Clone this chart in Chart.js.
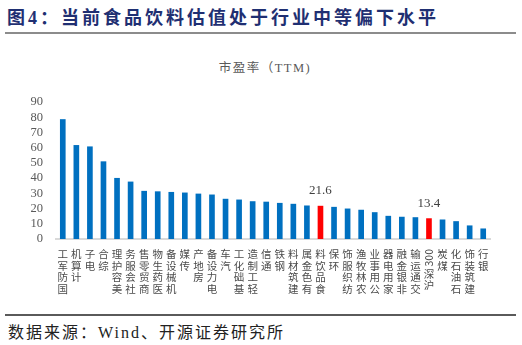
<!DOCTYPE html>
<html>
<head>
<meta charset="utf-8">
<script src="https://cdn.jsdelivr.net/npm/chart.js@4"></script>
<style>
  body { margin: 0; width: 522px; height: 345px; background: #fff; position: relative; overflow: hidden; }
  #head { position: absolute; left: 7px; top: 3px; font: bold 18px "Liberation Serif", "Noto Sans CJK SC"; letter-spacing: 3px; color: #1f2f72; white-space: nowrap; }
  #headLine { position: absolute; left: 5px; top: 32px; width: 511px; height: 2px; background: #8c8c8c; }
  #chartTitle { position: absolute; left: 0; width: 530px; top: 57px; text-align: center; font: 12.5px "Liberation Serif", "Noto Sans CJK SC"; letter-spacing: 1.5px; color: #595959; }
  #box { position: absolute; left: 0; top: 40px; width: 522px; height: 270px; }
  #footLine { position: absolute; left: 5px; top: 314px; width: 511px; height: 2px; background: #5a5a5a; }
  #source { position: absolute; left: 8px; top: 319px; font: 16px "Liberation Serif", "Noto Sans CJK SC"; letter-spacing: 2px; color: #222; white-space: nowrap; }
</style>
</head>
<body>
<div id="head">图4：当前食品饮料估值处于行业中等偏下水平</div>
<div id="headLine"></div>
<div id="chartTitle">市盈率（TTM)</div>
<div id="box"><canvas id="peChart"></canvas></div>
<div id="footLine"></div>
<div id="source">数据来源：Wind、开源证券研究所</div>

<script>

// =========================
// DATA
// =========================

const industries = [
  '国防军工', '计算机', '电子', '综合', '美容护理', '社会服务', '商贸零售', '医药生物',
  '机械设备', '传媒', '房地产', '电力设备', '汽车', '基础化工', '轻工制造', '通信',
  '钢铁', '建筑材料', '有色金属', '食品饮料', '环保', '纺织服饰', '农林牧渔', '公用事业',
  '家用电器', '非银金融', '交通运输', '沪深300', '煤炭', '石油石化', '建筑装饰', '银行'
];

const peTTM = [
  78.5, 61.5, 60.6, 50.8, 39.9, 37.5, 31.4, 31.1,
  30.7, 30.3, 29.6, 29.0, 26.2, 25.7, 24.6, 24.3,
  23.5, 22.9, 21.8, 21.6, 20.9, 19.8, 19.0, 17.4,
  15.0, 14.4, 14.1, 13.4, 12.6, 11.5, 8.7, 6.7
];

// bars shown in red, with their value printed on top
const highlighted = ['食品饮料', '沪深300'];

const yTicks = [0, 10, 20, 30, 40, 50, 60, 70, 80, 90];


// =========================
// PLUGINS
// =========================

// category names stacked one glyph per row, read from bottom to top
const stackedLabels = {
  id: 'stackedLabels',
  afterDraw(chart) {
    const ctx = chart.ctx;
    const xScale = chart.scales.x;
    const top = chart.chartArea.bottom + 10;
    const step = 11.6;

    ctx.save();
    ctx.fillStyle = '#4a4a4a';
    ctx.font = '10.5px "Noto Sans CJK SC"';
    ctx.textAlign = 'center';
    ctx.textBaseline = 'top';

    industries.forEach((name, i) => {
      const x = xScale.getPixelForValue(i);
      const parts = name.match(/[0-9]+|./g).reverse();
      let y = top;
      parts.forEach(part => {
        if (/^[0-9]+$/.test(part)) {
          // digits lie on their side, like the rotated axis text
          const w = ctx.measureText(part).width;
          ctx.save();
          ctx.translate(x, y + w);
          ctx.rotate(-Math.PI / 2);
          ctx.textAlign = 'left';
          ctx.textBaseline = 'middle';
          ctx.fillText(part, 0, 0);
          ctx.restore();
          y += w + 2;
        } else {
          ctx.fillText(part, x, y);
          y += step;
        }
      });
    });
    ctx.restore();
  }
};

// values over the red bars
const valueTags = {
  id: 'valueTags',
  afterDatasetsDraw(chart) {
    const ctx = chart.ctx;
    const meta = chart.getDatasetMeta(0);

    ctx.save();
    ctx.fillStyle = '#404040';
    ctx.font = '13px "Liberation Serif"';
    ctx.textAlign = 'center';
    ctx.textBaseline = 'bottom';

    industries.forEach((name, i) => {
      if (!highlighted.includes(name)) return;
      const bar = meta.data[i];
      ctx.fillText(peTTM[i].toFixed(1), bar.x, bar.y - 9);
    });
    ctx.restore();
  }
};


// =========================
// CHART
// =========================

const ctx = document.getElementById('peChart');

new Chart(ctx, {
  type: 'bar',
  data: {
    labels: industries,
    datasets: [{
      data: peTTM,
      backgroundColor: industries.map(n =>
        highlighted.includes(n) ? '#ff0000' : '#0070c0'
      ),
      barThickness: 5
    }]
  },
  options: {
    responsive: true,
    maintainAspectRatio: false,
    animation: false,
    layout: {
      padding: { left: 0, right: 32, top: 62, bottom: 0 }
    },
    plugins: {
      legend: { display: false },
      tooltip: { enabled: false }
    },
    scales: {
      x: {
        grid: { display: false },
        border: { color: '#d9d9d9', width: 2 },
        ticks: { display: false },
        afterFit: s => { s.height = 71; }
      },
      y: {
        min: 0,
        max: 90,
        afterBuildTicks: s => { s.ticks = yTicks.map(v => ({ value: v })); },
        grid: { display: false, drawTicks: false },
        border: { display: false },
        ticks: {
          color: '#595959',
          padding: 13,
          autoSkip: false,
          font: { family: '"Liberation Serif"', size: 12.5 }
        },
        afterFit: s => { s.width = 56; }
      }
    }
  },
  plugins: [stackedLabels, valueTags]
});

</script>
</body>
</html>
